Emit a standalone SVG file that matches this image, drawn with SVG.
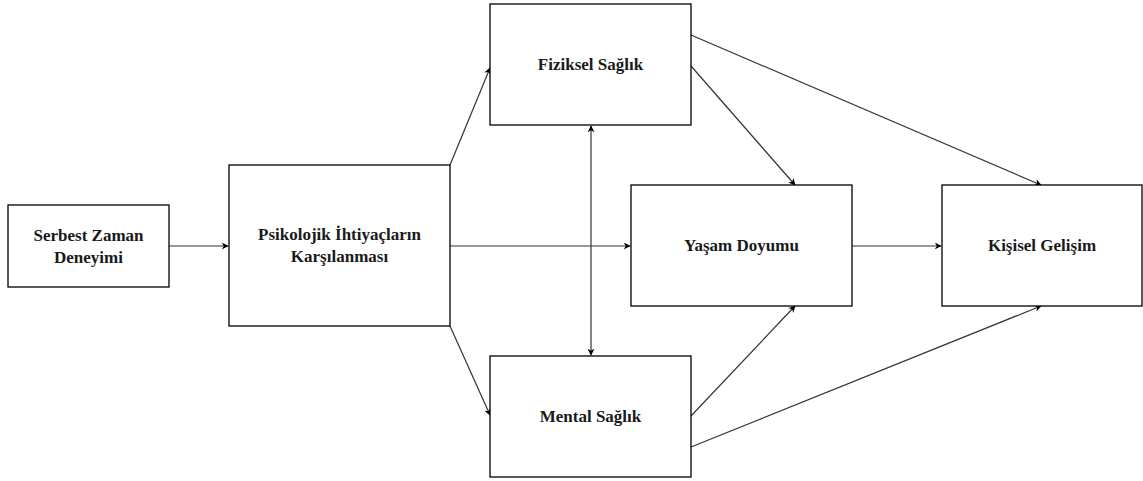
<svg xmlns="http://www.w3.org/2000/svg" width="1143" height="481" viewBox="0 0 1143 481">
<style>
.box{fill:#fff;stroke:#000;stroke-width:1.3}
.lbl{font-family:'Liberation Serif','Times New Roman',serif;font-weight:bold;font-size:17px;fill:#1a1a1a;text-anchor:middle}
.edge{stroke:#333;stroke-width:1.2;fill:none}
</style>
<defs>
<marker id="arr" viewBox="0 0 10 10" refX="9" refY="5" markerWidth="7" markerHeight="7" markerUnits="userSpaceOnUse" orient="auto-start-reverse">
<path d="M0,0 L10,5 L0,10 L3,5 Z" fill="#000"/>
</marker>
</defs>
<rect width="1143" height="481" fill="#fff"/>
<g id="connectors">
<line class="edge" x1="169" y1="246" x2="228" y2="246" marker-end="url(#arr)"/>
<line class="edge" x1="450" y1="246" x2="630" y2="246" marker-end="url(#arr)"/>
<line class="edge" x1="852" y1="246" x2="941" y2="246" marker-end="url(#arr)"/>
<line class="edge" x1="450" y1="165" x2="490" y2="68" marker-end="url(#arr)"/>
<line class="edge" x1="450" y1="326" x2="490" y2="415" marker-end="url(#arr)"/>
<line class="edge" x1="591" y1="126" x2="591" y2="355" marker-start="url(#arr)" marker-end="url(#arr)"/>
<line class="edge" x1="691" y1="35" x2="1041" y2="185" marker-end="url(#arr)"/>
<line class="edge" x1="691" y1="66" x2="795" y2="185" marker-end="url(#arr)"/>
<line class="edge" x1="691" y1="416" x2="795" y2="306" marker-end="url(#arr)"/>
<line class="edge" x1="691" y1="447" x2="1041" y2="306" marker-end="url(#arr)"/>
</g>
<g id="n1">
<rect class="box" x="8" y="205" width="161" height="82"/>
<text class="lbl" x="88.5" y="241">Serbest Zaman</text>
<text class="lbl" x="88.5" y="263">Deneyimi</text>
</g>
<g id="n2">
<rect class="box" x="229" y="165" width="221" height="161"/>
<text class="lbl" x="339.5" y="240">Psikolojik İhtiyaçların</text>
<text class="lbl" x="339.5" y="262">Karşılanması</text>
</g>
<g id="n3">
<rect class="box" x="490" y="4" width="201" height="121"/>
<text class="lbl" x="590.5" y="70">Fiziksel Sağlık</text>
</g>
<g id="n4">
<rect class="box" x="490" y="356" width="201" height="121"/>
<text class="lbl" x="590.5" y="422">Mental Sağlık</text>
</g>
<g id="n5">
<rect class="box" x="631" y="185" width="221" height="121"/>
<text class="lbl" x="741.5" y="251">Yaşam Doyumu</text>
</g>
<g id="n6">
<rect class="box" x="942" y="185" width="200" height="121"/>
<text class="lbl" x="1042" y="251">Kişisel Gelişim</text>
</g>
</svg>
